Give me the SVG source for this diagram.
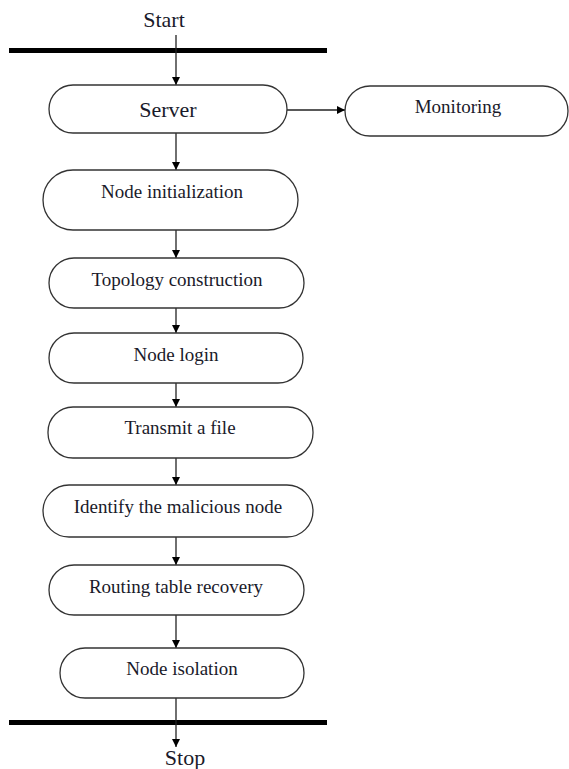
<svg xmlns="http://www.w3.org/2000/svg" width="569" height="769" viewBox="0 0 569 769">
<defs>
<style>
.node{fill:#fff;stroke:#333;stroke-width:1.3}
.lbl{font-family:"Liberation Serif","Times New Roman",serif;font-size:19px;fill:#1a1a2a;text-anchor:middle}
.big{font-size:22px}
.bar{fill:#000}
.edge{stroke:#222;stroke-width:1.3;fill:none;marker-end:url(#ah)}
</style>
<marker id="ah" viewBox="0 0 10 10" refX="10" refY="5" markerWidth="8" markerHeight="8" markerUnits="userSpaceOnUse" orient="auto">
<path d="M0,0 L10,5 L0,10 z" fill="#000"/>
</marker>
</defs>
<rect width="569" height="769" fill="#fff"/>
<g id="start">
<text class="lbl big" x="164" y="27">Start</text>
<rect class="bar" x="9" y="48" width="318" height="5"/>
</g>
<g id="stop">
<rect class="bar" x="9" y="720" width="318" height="5"/>
<text class="lbl big" x="185" y="765">Stop</text>
</g>
<g id="connectors">
<line class="edge" x1="176" y1="35" x2="176" y2="85"/>
<line class="edge" x1="287" y1="110" x2="345" y2="110"/>
<line class="edge" x1="176" y1="133" x2="176" y2="170"/>
<line class="edge" x1="176" y1="230" x2="176" y2="258"/>
<line class="edge" x1="176" y1="308" x2="176" y2="333"/>
<line class="edge" x1="176" y1="383" x2="176" y2="407"/>
<line class="edge" x1="176" y1="458" x2="176" y2="485"/>
<line class="edge" x1="176" y1="537" x2="176" y2="565"/>
<line class="edge" x1="176" y1="615" x2="176" y2="648"/>
<line class="edge" x1="176" y1="698" x2="176" y2="747"/>
</g>
<g id="server">
<rect class="node" x="49" y="85" width="238" height="48" rx="24" ry="24"/>
<text class="lbl big" x="168" y="117">Server</text>
</g>
<g id="monitoring">
<rect class="node" x="345" y="86" width="223" height="50" rx="25" ry="25"/>
<text class="lbl" x="458" y="113">Monitoring</text>
</g>
<g id="node-init">
<rect class="node" x="43" y="170" width="255" height="60" rx="30" ry="30"/>
<text class="lbl" x="172" y="198">Node initialization</text>
</g>
<g id="topology">
<rect class="node" x="49" y="258" width="255" height="50" rx="25" ry="25"/>
<text class="lbl" x="177" y="286">Topology construction</text>
</g>
<g id="node-login">
<rect class="node" x="49" y="333" width="254" height="50" rx="25" ry="25"/>
<text class="lbl" x="176" y="361">Node login</text>
</g>
<g id="transmit">
<rect class="node" x="48" y="407" width="265" height="51" rx="25" ry="25"/>
<text class="lbl" x="180" y="434">Transmit a file</text>
</g>
<g id="identify">
<rect class="node" x="43" y="485" width="270" height="52" rx="26" ry="26"/>
<text class="lbl" x="178" y="513">Identify the malicious node</text>
</g>
<g id="routing">
<rect class="node" x="49" y="565" width="255" height="50" rx="25" ry="25"/>
<text class="lbl" x="176" y="593">Routing table recovery</text>
</g>
<g id="isolation">
<rect class="node" x="60" y="648" width="244" height="50" rx="25" ry="25"/>
<text class="lbl" x="182" y="675">Node isolation</text>
</g>
</svg>
